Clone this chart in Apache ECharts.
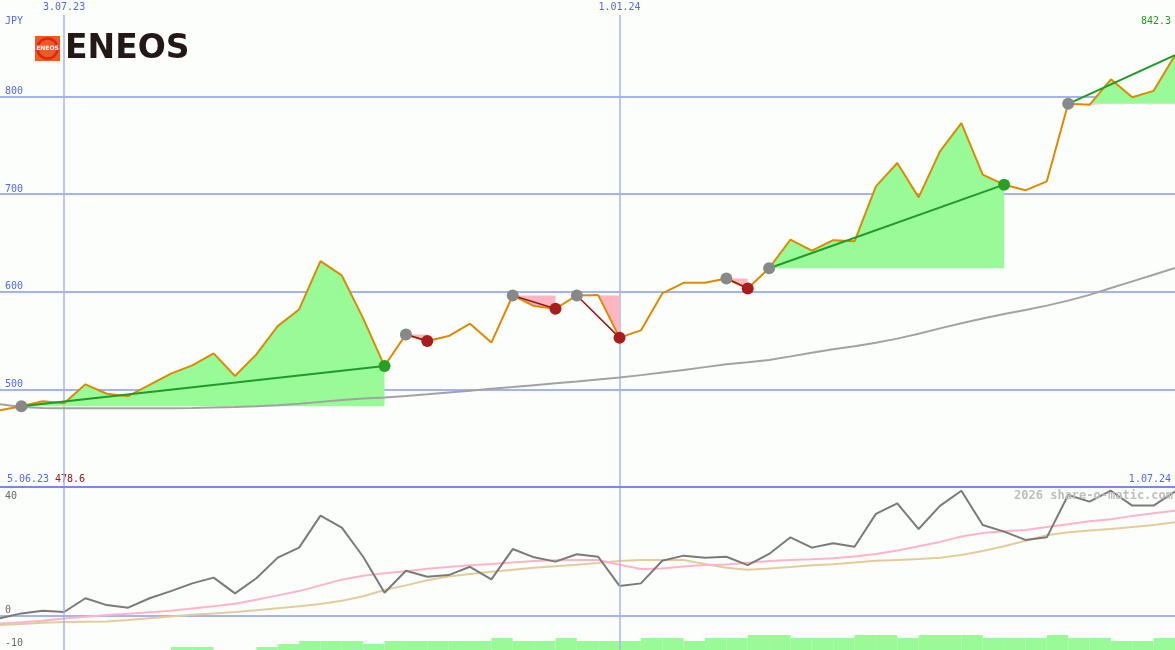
<!DOCTYPE html>
<html><head><meta charset="utf-8">
<script src="https://cdn.jsdelivr.net/npm/echarts@6/dist/echarts.min.js"></script>
<style>html,body{margin:0;padding:0;background:#fcfefc}#c{width:1175px;height:650px}</style>
</head><body><div id="c"></div>
<script>
// ---- data (weekly) ----
const dates = ['12.06.23','19.06.23','26.06.23','3.07.23','10.07.23','17.07.23','24.07.23','31.07.23','7.08.23','14.08.23',
  '21.08.23','28.08.23','4.09.23','11.09.23','18.09.23','25.09.23','2.10.23','9.10.23','16.10.23','23.10.23',
  '30.10.23','6.11.23','13.11.23','20.11.23','27.11.23','4.12.23','11.12.23','18.12.23','25.12.23','1.01.24',
  '8.01.24','15.01.24','22.01.24','29.01.24','5.02.24','12.02.24','19.02.24','26.02.24','4.03.24','11.03.24',
  '18.03.24','25.03.24','1.04.24','8.04.24','15.04.24','22.04.24','29.04.24','6.05.24','13.05.24','20.05.24',
  '27.05.24','3.06.24','10.06.24','17.06.24','24.06.24','1.07.24'];
const price = [478.6,482.7,487.8,485.8,505.2,495.5,493.0,504.5,516.2,524.6,
  536.9,513.7,535.9,564.8,581.9,631.3,616.7,572.7,523.9,556.3,
  549.5,554.6,567.3,547.9,596.2,585.3,582.6,596.2,596.6,553.0,
  560.4,598.3,609.2,609.2,613.6,603.4,624.1,653.5,642.2,652.8,
  651.7,708.0,731.9,696.7,743.8,772.8,720.0,709.7,703.9,713.1,
  792.5,791.5,817.6,799.2,805.8,842.3];
const movingAvg = [484.8,482.0,480.8,480.7,480.7,480.7,480.7,480.7,480.7,480.8,
  481.5,482.0,482.8,483.8,485.3,487.2,489.0,490.6,491.8,493.3,
  494.9,496.8,498.7,500.6,502.4,504.3,506.2,508.1,510.1,512.1,
  514.6,517.2,519.8,522.8,525.7,527.8,530.2,533.8,537.5,541.0,
  544.1,547.8,552.0,557.0,562.5,567.8,572.6,577.2,581.4,585.8,
  590.9,596.8,603.8,610.6,617.5,624.5];
const oscillator = [-0.9,0.8,1.7,1.3,6.1,3.7,2.8,6.1,8.6,11.3,
  13.3,7.8,13.1,20.3,23.8,35.0,30.8,20.6,8.0,15.7,
  13.6,14.2,17.1,12.7,23.3,20.4,18.9,21.5,20.6,10.4,
  11.3,19.2,21.0,20.3,20.6,17.7,21.6,27.4,23.8,25.3,
  24.1,35.6,39.3,30.3,38.4,43.7,31.7,29.4,26.5,27.4,
  42.2,39.9,43.7,38.5,38.5,43.4];
const oscFast = [-2.7,-2.3,-1.8,-1.0,-0.4,0.2,0.7,1.2,1.7,2.5,
  3.3,4.2,5.6,7.1,8.6,10.6,12.6,14.0,14.8,15.5,
  16.4,17.0,17.6,18.1,18.6,19.1,19.4,19.5,19.5,17.8,
  16.3,16.5,17.2,17.7,17.9,18.5,19.1,19.5,19.7,20.1,
  20.7,21.6,22.8,24.3,25.8,27.7,28.9,29.5,30.0,31.0,
  32.0,33.0,33.7,34.9,35.8,36.7];
const oscSlow = [-3.3,-2.9,-2.5,-2.2,-2.1,-2.0,-1.5,-0.9,-0.3,0.3,
  0.8,1.3,1.9,2.6,3.3,4.1,5.2,6.8,9.0,10.6,
  12.4,13.7,14.6,15.4,16.1,16.8,17.3,17.8,18.4,19.1,
  19.5,19.5,19.5,18.1,16.8,16.1,16.5,17.0,17.6,18.0,
  18.6,19.2,19.5,19.8,20.3,21.2,22.6,24.3,26.2,28.1,
  29.2,29.8,30.3,31.0,31.7,32.7];
const volume = [0,0,0,0,0,0,0,0,1,1,
  0,0,1,2,3,3,3,2,3,3,
  3,3,3,4,3,3,4,3,3,3,
  4,4,3,4,4,5,5,4,4,4,
  5,5,4,5,5,5,4,4,4,5,
  4,4,3,3,4,4];
// trades: [entry index, exit index, outcome]
const trades = [[1,18,'win'],[19,20,'loss'],[24,26,'loss'],[27,29,'loss'],[34,35,'loss'],[36,47,'win'],[50,55,'open']];
const mainTicks = [800,700,600,500];
const lowerTicks = [40,0,-10];
const markedDates = ['3.07.23','1.01.24'];
const currency = 'JPY';
const startDateLabel = '5.06.23';
const endDateLabel = '1.07.24';
const watermark = '2026 share-o-matic.com';

// ---- styling ----
const mono = "'DejaVu Sans Mono', monospace";
const blue = '#5566ee';
const gridBlue = '#a6b3f2';
const minPrice = Math.min(...price).toFixed(1);
const lastPrice = price[price.length - 1].toFixed(1);

function renderFill(params, api) {
  const t = trades[params.dataIndex];
  const s = t[0], e = t[1], base = price[s];
  const up = [], dn = [];
  for (let i = s; i <= e; i++) {
    up.push(api.coord([i, Math.max(price[i], base)]));
    dn.push(api.coord([i, Math.min(price[i], base)]));
  }
  const b0 = api.coord([s, base]), b1 = api.coord([e, base]);
  return {type: 'group', children: [
    {type: 'polygon', shape: {points: up.concat([b1, b0])}, style: {fill: '#98fb98'}},
    {type: 'polygon', shape: {points: dn.concat([b1, b0])}, style: {fill: '#ffb6c1'}}
  ]};
}
function renderSignal(params, api) {
  const t = trades[params.dataIndex];
  const p0 = api.coord([t[0], price[t[0]]]);
  const p1 = api.coord([t[1], price[t[1]]]);
  const loss = t[2] === 'loss';
  const children = [
    {type: 'line', shape: {x1: p0[0], y1: p0[1], x2: p1[0], y2: p1[1]},
     style: {stroke: loss ? '#9a1414' : '#22992a', lineWidth: loss ? 1.5 : 2}},
    {type: 'circle', shape: {cx: p0[0], cy: p0[1], r: 6}, style: {fill: '#888888'}}
  ];
  if (t[2] !== 'open') {
    children.push({type: 'circle', shape: {cx: p1[0], cy: p1[1], r: 6},
      style: {fill: t[2] === 'win' ? '#26a026' : '#a81c1c'}});
  }
  return {type: 'group', children};
}
function renderBar(params, api) {
  const i = api.value(0), v = api.value(1);
  if (!v) return null;
  const a = api.coord([i, 0]), b = api.coord([i + 1, v]);
  return {type: 'rect', shape: {x: a[0], y: b[1], width: b[0] - a[0], height: a[1] - b[1]},
    style: {fill: '#98fb98'}};
}

const chart = echarts.init(document.getElementById('c'), null, {renderer: 'canvas'});
const dateSplit = (i, v) => markedDates.includes(v);
chart.setOption({
  backgroundColor: '#fcfefc',
  animation: false,
  grid: [
    {left: 0, right: 0, top: 15, height: 472},
    {left: 0, right: 0, top: 487, height: 163}
  ],
  xAxis: [
    {type: 'category', gridIndex: 0, data: dates, boundaryGap: false, position: 'top',
     axisLine: {show: false}, axisTick: {show: false},
     axisLabel: {interval: dateSplit, margin: 3, color: blue, fontFamily: mono, fontSize: 10},
     splitLine: {show: true, interval: dateSplit, lineStyle: {color: gridBlue, width: 1.5}}},
    {type: 'category', gridIndex: 1, data: dates, boundaryGap: false, position: 'top', z: 6,
     axisLine: {show: true, onZero: false, lineStyle: {color: '#7a88ee', width: 2}}, axisTick: {show: false},
     axisLabel: {show: false},
     splitLine: {show: true, interval: dateSplit, lineStyle: {color: gridBlue, width: 1.5}}}
  ],
  yAxis: [
    {type: 'value', gridIndex: 0, min: 400, max: 883.5, interval: 100,
     axisLine: {show: false}, axisTick: {show: false},
     axisLabel: {inside: true, margin: 5, verticalAlign: 'bottom', color: blue, fontFamily: mono, fontSize: 10,
       formatter: v => mainTicks.includes(v) ? String(v) : ''},
     splitLine: {show: true, showMinLine: false, showMaxLine: false, lineStyle: {color: gridBlue, width: 2}}},
    {type: 'value', gridIndex: 1, min: -12, max: 45,
     axisLine: {show: false}, axisTick: {show: false},
     axisLabel: {inside: true, margin: 5, verticalAlign: 'bottom', color: '#666666', fontFamily: mono, fontSize: 10,
       formatter: v => lowerTicks.includes(v) ? (v < 0 ? '{low|' + v + '}' : String(v)) : '',
       rich: {low: {padding: [0, 0, -4, 0], color: '#666666', fontFamily: mono, fontSize: 10}}},
     splitLine: {show: false}},
    {type: 'value', gridIndex: 1, min: 0, max: 54.33, show: false}
  ],
  series: [
    {type: 'custom', name: 'fills', xAxisIndex: 0, yAxisIndex: 0, z: 1,
     data: trades.map(t => [t[0], price[t[0]]]), renderItem: renderFill, silent: true},
    {type: 'line', name: 'ma', xAxisIndex: 0, yAxisIndex: 0, z: 2, data: movingAvg, symbol: 'none',
     lineStyle: {color: '#a2a2a2', width: 2}},
    {type: 'line', name: 'price', xAxisIndex: 0, yAxisIndex: 0, z: 3, data: price, symbol: 'none',
     lineStyle: {color: '#dd8a00', width: 2}},
    {type: 'custom', name: 'signals', xAxisIndex: 0, yAxisIndex: 0, z: 4,
     data: trades.map(t => [t[0], price[t[0]]]), renderItem: renderSignal, silent: true},
    {type: 'custom', name: 'volume', xAxisIndex: 1, yAxisIndex: 2, z: 1, clip: true,
     data: volume.map((v, i) => [i, v]), renderItem: renderBar, silent: true},
    {type: 'line', name: 'slow', xAxisIndex: 1, yAxisIndex: 1, z: 2, data: oscSlow, symbol: 'none',
     lineStyle: {color: '#e2cc9c', width: 2}},
    {type: 'line', name: 'fast', xAxisIndex: 1, yAxisIndex: 1, z: 3, data: oscFast, symbol: 'none',
     lineStyle: {color: '#ffb4c8', width: 2}},
    {type: 'line', name: 'osc', xAxisIndex: 1, yAxisIndex: 1, z: 4, data: oscillator, symbol: 'none',
     lineStyle: {color: '#7a7a7a', width: 2},
     markLine: {silent: true, symbol: 'none', label: {show: false}, z: 1,
       lineStyle: {color: gridBlue, width: 2, type: 'solid'}, data: [{yAxis: 0}]}}
  ],
  graphic: [
    {type: 'rect', shape: {x: 35, y: 36, width: 25, height: 25}, style: {fill: '#ef5a24'}},
    {type: 'circle', shape: {cx: 47.5, cy: 48.5, r: 10}, style: {fill: 'none', stroke: '#e2231a', lineWidth: 2.5}},
    {type: 'text', x: 47.5, y: 48.5, style: {text: 'ENEOS', fill: '#ffffff', font: 'bold 6px DejaVu Sans',
      align: 'center', verticalAlign: 'middle', textAlign: 'center', textVerticalAlign: 'middle'}},
    {type: 'text', x: 65, y: 49.5, style: {text: 'ENEOS', fill: '#231815', font: 'bold 33px DejaVu Sans',
      align: 'left', verticalAlign: 'middle', textAlign: 'left', textVerticalAlign: 'middle'}},
    {type: 'text', x: 5, y: 21, style: {text: currency, fill: blue, font: '10px ' + mono,
      align: 'left', verticalAlign: 'middle', textAlign: 'left', textVerticalAlign: 'middle'}},
    {type: 'text', x: 1171, y: 21, style: {text: lastPrice, fill: '#229922', font: '10px ' + mono,
      align: 'right', verticalAlign: 'middle', textAlign: 'right', textVerticalAlign: 'middle'}},
    {type: 'text', x: 7, y: 479, style: {text: startDateLabel, fill: blue, font: '10px ' + mono,
      align: 'left', verticalAlign: 'middle', textAlign: 'left', textVerticalAlign: 'middle'}},
    {type: 'text', x: 55, y: 479, style: {text: minPrice, fill: '#a01515', font: '10px ' + mono,
      align: 'left', verticalAlign: 'middle', textAlign: 'left', textVerticalAlign: 'middle'}},
    {type: 'text', x: 1171, y: 479, style: {text: endDateLabel, fill: blue, font: '10px ' + mono,
      align: 'right', verticalAlign: 'middle', textAlign: 'right', textVerticalAlign: 'middle'}},
    {type: 'text', x: 1173, y: 496, z: 10, style: {text: watermark, fill: '#bdbdbd', font: 'bold 12px ' + mono,
      align: 'right', verticalAlign: 'middle', textAlign: 'right', textVerticalAlign: 'middle'}}
  ]
});
</script></body></html>
